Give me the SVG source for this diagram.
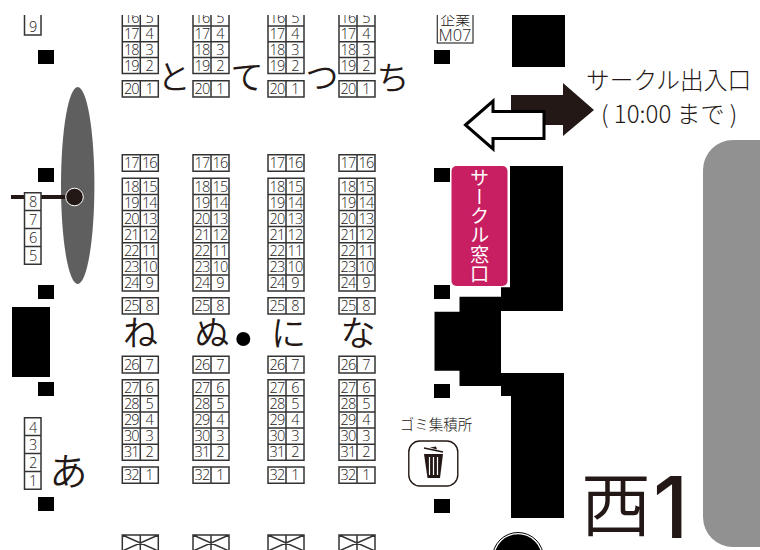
<svg xmlns="http://www.w3.org/2000/svg" xmlns:xlink="http://www.w3.org/1999/xlink" width="760" height="550" viewBox="0 0 760 550">
<style>
text{font-family:"Noto Sans CJK JP","Noto Sans",sans-serif;fill:#231815}
.n text,text.n{font-family:"Open Sans","Noto Sans",sans-serif;font-weight:300;font-size:14.500px;text-anchor:middle;letter-spacing:-.9px;fill:#231815}
.kana{font-size:33px;font-weight:350;text-anchor:middle}
.low{font-size:35px}
.cell{fill:#fff;stroke:#333;stroke-width:1.500}
.sq{fill:#000}
.lab{font-weight:300}
</style>
<defs>
<path id="grid" class="cell" d="M0 10H36V73.5H0ZM0 25.9H36M0 41.8H36M0 57.6H36M18 10V73.5M0 80.7H36V97H0ZM18 80.7V97M0 154.7H36V171.3H0ZM18 154.7V171.3M0 178.3H36V291H0ZM0 194.4H36M0 210.5H36M0 226.6H36M0 242.7H36M0 258.8H36M0 274.9H36M18 178.3V291M0 297.7H36V314H0ZM18 297.7V314M0 356.3H36V373H0ZM18 356.3V373M0 379.7H36V460.3H0ZM0 395.8H36M0 411.9H36M0 428H36M0 444.2H36M18 379.7V460.3M0 467H36V483.3H0ZM18 467V483.3M0 535H36V551H0ZM18 535V551M0 535L36 551M36 535L0 551"/>
</defs>
<rect width="760" height="550" fill="#fff"/>
<g id="wall-gray"><rect x="703" y="140" width="90" height="407" rx="30" fill="#919191"/></g>
<g id="pillars">
<rect class="sq" x="38" y="50" width="16" height="14"/>
<rect class="sq" x="38" y="168" width="16" height="14"/>
<rect class="sq" x="38" y="285" width="16" height="14"/>
<rect class="sq" x="38" y="382" width="16" height="14"/>
<rect class="sq" x="38" y="497" width="16" height="14"/>
<rect class="sq" x="434" y="50" width="16" height="14"/>
<rect class="sq" x="434" y="168" width="16" height="14"/>
<rect class="sq" x="434" y="285" width="16" height="14"/>
<rect class="sq" x="434" y="384" width="16" height="14"/>
<rect class="sq" x="434" y="499" width="16" height="14"/>
</g>
<g id="black-walls">
<rect class="sq" x="12" y="307" width="38" height="70"/>
<rect class="sq" x="512" y="15" width="53" height="52"/>
<path class="sq" d="M510 166H563V311H510V311H501V373H564V518H511V396H501V386H459.500V370.700H434.500V311.700H459.500V296.700H501V287.300H510Z"/>
</g>
<g id="stage-ellipse"><ellipse cx="77.700" cy="185.500" rx="16.700" ry="98.500" fill="#5f5f5f"/></g>
<g id="connectors"><path d="M11 197H70" stroke="#231815" stroke-width="4" fill="none"/></g>
<g id="marker-dot"><circle cx="74.500" cy="197" r="8.800" fill="#231815" stroke="#fff" stroke-width="1"/></g>

<g id="col-left-top" class="n"><rect class="cell" x="24.500" y="5" width="16.500" height="30"/><text x="32.700" y="32">9</text></g>
<g id="col-left-mid" class="n">
<path class="cell" d="M24.500 192.700H41V264.300H24.500ZM24.500 210.600H41M24.500 228.500H41M24.500 246.400H41"/>
<text x="32.700" y="207">8</text><text x="32.700" y="225">7</text><text x="32.700" y="243">6</text><text x="32.700" y="260.500">5</text></g>
<g id="col-left-bottom" class="n">
<path class="cell" d="M24.500 417.700H41V489.300H24.500ZM24.500 435.600H41M24.500 453.500H41M24.500 471.400H41"/>
<text x="32.700" y="432.500">4</text><text x="32.700" y="450">3</text><text x="32.700" y="468">2</text><text x="32.700" y="485.500">1</text></g>

<g id="col-1" class="n" transform="translate(122.300 0)"><use xlink:href="#grid" href="#grid"/>
<text x="9" y="23">16</text><text x="27" y="23">5</text><text x="9" y="39">17</text><text x="27" y="39">4</text><text x="9" y="55">18</text><text x="27" y="55">3</text><text x="9" y="70.700">19</text><text x="27" y="70.700">2</text><text x="9" y="94">20</text><text x="27" y="94">1</text>
<text x="9" y="168">17</text><text x="27" y="168">16</text>
<text x="9" y="191.500">18</text><text x="27" y="191.500">15</text><text x="9" y="207.600">19</text><text x="27" y="207.600">14</text><text x="9" y="223.700">20</text><text x="27" y="223.700">13</text><text x="9" y="239.800">21</text><text x="27" y="239.800">12</text><text x="9" y="255.900">22</text><text x="27" y="255.900">11</text><text x="9" y="272">23</text><text x="27" y="272">10</text><text x="9" y="288.100">24</text><text x="27" y="288.100">9</text>
<text x="9" y="311">25</text><text x="27" y="311">8</text><text x="9" y="369.500">26</text><text x="27" y="369.500">7</text>
<text x="9" y="392.900">27</text><text x="27" y="392.900">6</text><text x="9" y="409">28</text><text x="27" y="409">5</text><text x="9" y="425.100">29</text><text x="27" y="425.100">4</text><text x="9" y="441.200">30</text><text x="27" y="441.200">3</text><text x="9" y="457.400">31</text><text x="27" y="457.400">2</text>
<text x="9" y="480.200">32</text><text x="27" y="480.200">1</text></g>

<g id="col-2" class="n" transform="translate(193 0)"><use xlink:href="#grid" href="#grid"/>
<text x="9" y="23">16</text><text x="27" y="23">5</text><text x="9" y="39">17</text><text x="27" y="39">4</text><text x="9" y="55">18</text><text x="27" y="55">3</text><text x="9" y="70.700">19</text><text x="27" y="70.700">2</text><text x="9" y="94">20</text><text x="27" y="94">1</text>
<text x="9" y="168">17</text><text x="27" y="168">16</text>
<text x="9" y="191.500">18</text><text x="27" y="191.500">15</text><text x="9" y="207.600">19</text><text x="27" y="207.600">14</text><text x="9" y="223.700">20</text><text x="27" y="223.700">13</text><text x="9" y="239.800">21</text><text x="27" y="239.800">12</text><text x="9" y="255.900">22</text><text x="27" y="255.900">11</text><text x="9" y="272">23</text><text x="27" y="272">10</text><text x="9" y="288.100">24</text><text x="27" y="288.100">9</text>
<text x="9" y="311">25</text><text x="27" y="311">8</text><text x="9" y="369.500">26</text><text x="27" y="369.500">7</text>
<text x="9" y="392.900">27</text><text x="27" y="392.900">6</text><text x="9" y="409">28</text><text x="27" y="409">5</text><text x="9" y="425.100">29</text><text x="27" y="425.100">4</text><text x="9" y="441.200">30</text><text x="27" y="441.200">3</text><text x="9" y="457.400">31</text><text x="27" y="457.400">2</text>
<text x="9" y="480.200">32</text><text x="27" y="480.200">1</text></g>

<g id="col-3" class="n" transform="translate(268 0)"><use xlink:href="#grid" href="#grid"/>
<text x="9" y="23">16</text><text x="27" y="23">5</text><text x="9" y="39">17</text><text x="27" y="39">4</text><text x="9" y="55">18</text><text x="27" y="55">3</text><text x="9" y="70.700">19</text><text x="27" y="70.700">2</text><text x="9" y="94">20</text><text x="27" y="94">1</text>
<text x="9" y="168">17</text><text x="27" y="168">16</text>
<text x="9" y="191.500">18</text><text x="27" y="191.500">15</text><text x="9" y="207.600">19</text><text x="27" y="207.600">14</text><text x="9" y="223.700">20</text><text x="27" y="223.700">13</text><text x="9" y="239.800">21</text><text x="27" y="239.800">12</text><text x="9" y="255.900">22</text><text x="27" y="255.900">11</text><text x="9" y="272">23</text><text x="27" y="272">10</text><text x="9" y="288.100">24</text><text x="27" y="288.100">9</text>
<text x="9" y="311">25</text><text x="27" y="311">8</text><text x="9" y="369.500">26</text><text x="27" y="369.500">7</text>
<text x="9" y="392.900">27</text><text x="27" y="392.900">6</text><text x="9" y="409">28</text><text x="27" y="409">5</text><text x="9" y="425.100">29</text><text x="27" y="425.100">4</text><text x="9" y="441.200">30</text><text x="27" y="441.200">3</text><text x="9" y="457.400">31</text><text x="27" y="457.400">2</text>
<text x="9" y="480.200">32</text><text x="27" y="480.200">1</text></g>

<g id="col-4" class="n" transform="translate(339 0)"><use xlink:href="#grid" href="#grid"/>
<text x="9" y="23">16</text><text x="27" y="23">5</text><text x="9" y="39">17</text><text x="27" y="39">4</text><text x="9" y="55">18</text><text x="27" y="55">3</text><text x="9" y="70.700">19</text><text x="27" y="70.700">2</text><text x="9" y="94">20</text><text x="27" y="94">1</text>
<text x="9" y="168">17</text><text x="27" y="168">16</text>
<text x="9" y="191.500">18</text><text x="27" y="191.500">15</text><text x="9" y="207.600">19</text><text x="27" y="207.600">14</text><text x="9" y="223.700">20</text><text x="27" y="223.700">13</text><text x="9" y="239.800">21</text><text x="27" y="239.800">12</text><text x="9" y="255.900">22</text><text x="27" y="255.900">11</text><text x="9" y="272">23</text><text x="27" y="272">10</text><text x="9" y="288.100">24</text><text x="27" y="288.100">9</text>
<text x="9" y="311">25</text><text x="27" y="311">8</text><text x="9" y="369.500">26</text><text x="27" y="369.500">7</text>
<text x="9" y="392.900">27</text><text x="27" y="392.900">6</text><text x="9" y="409">28</text><text x="27" y="409">5</text><text x="9" y="425.100">29</text><text x="27" y="425.100">4</text><text x="9" y="441.200">30</text><text x="27" y="441.200">3</text><text x="9" y="457.400">31</text><text x="27" y="457.400">2</text>
<text x="9" y="480.200">32</text><text x="27" y="480.200">1</text></g>

<g id="m07"><rect x="437.300" y="5" width="35.700" height="38" fill="#fff" stroke="#333" stroke-width="1.200"/>
<text x="455.200" y="24.500" font-size="15" text-anchor="middle" font-weight="300">企業</text>
<text x="438.500" y="40.500" font-size="16.500" font-weight="300" textLength="33" lengthAdjust="spacingAndGlyphs" style="font-family:'Open Sans',sans-serif">M07</text></g>

<rect id="top-mask" width="760" height="15" fill="#fff"/>

<g id="kana">
<text class="kana" x="174" y="89">と</text>
<text class="kana" x="247" y="89">て</text>
<text class="kana" x="322" y="89">つ</text>
<text class="kana" x="393" y="90">ち</text>
<text class="kana low" x="140.500" y="346">ね</text>
<text class="kana low" x="212" y="346">ぬ</text>
<text class="kana low" x="288.500" y="346">に</text>
<text class="kana low" x="358" y="346">な</text>
<text class="kana" x="68.500" y="485" style="font-size:38px">あ</text>
</g>
<g id="dot"><circle cx="243.300" cy="339" r="7" fill="#000"/></g>

<g id="arrow-in"><path d="M511 95H563V83L594 110L563 136V125H511Z" fill="#231815"/></g>
<g id="arrow-out"><path d="M465.500 125L493 101V111.500H544V138.500H493V149Z" fill="#fff" stroke="#000" stroke-width="3"/></g>
<g id="entry-label">
<text class="lab" x="586" y="89" font-size="23.700">サークル出入口</text>
<text class="lab" x="601" y="123" font-size="24">( 10:00 まで )</text>
</g>
<g id="window"><rect x="451.500" y="166" width="56" height="120" rx="5" fill="#c81e62"/>
<text x="479.500" y="168" font-size="19.200" style="writing-mode:vertical-rl;fill:#fff">サークル窓口</text></g>

<g id="trash">
<text class="lab" x="436" y="430" font-size="14.500" text-anchor="middle">ゴミ集積所</text>
<rect x="408.800" y="441" width="49" height="45" rx="11" fill="#fff" stroke="#231815" stroke-width="1.400"/>
<path d="M424 454H443L440 478H427.500Z" fill="#231815"/>
<path d="M429.500 457V475M433.500 457V475M437.500 457V475" stroke="#fff" stroke-width="1.200"/>
<path d="M424 448L443 452" stroke="#231815" stroke-width="1.600"/>
<path d="M430 447.500L436 446.500L437 449.500Z" fill="#231815"/>
</g>
<g id="hall-name">
<text x="581" y="531" font-size="70" font-weight="350">西</text>
<text x="653" y="538" font-size="85" font-weight="500" style="font-family:Inter,sans-serif">1</text>
</g>
<g id="pillar-round"><circle cx="518" cy="558" r="24.500" fill="#000" stroke="#fff" stroke-width="1.500"/><circle cx="518" cy="558" r="25.500" fill="none" stroke="#000" stroke-width="1"/></g>
</svg>
